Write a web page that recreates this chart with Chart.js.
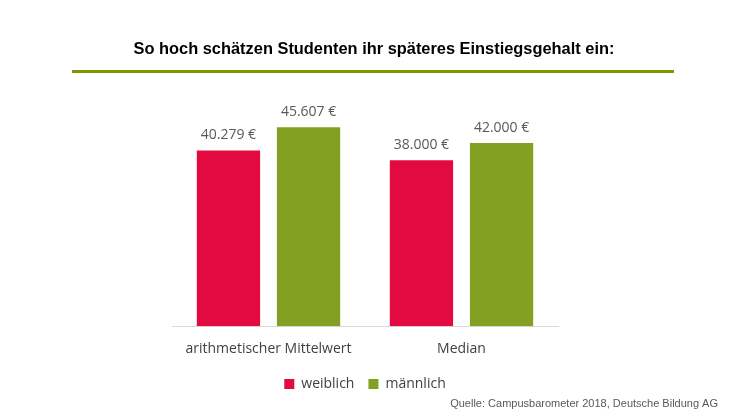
<!DOCTYPE html>
<html><head><meta charset="utf-8">
<script src="https://cdn.jsdelivr.net/npm/chart.js@4"></script>
<style>html,body{margin:0;padding:0;background:#fff;}#w{position:relative;width:746px;height:419px;}</style>
</head><body><div id="w"><canvas id="c" width="746" height="419"></canvas></div>
<script>
const categories = ["arithmetischer Mittelwert", "Median"];
const weiblich = [40279, 38000];
const maennlich = [45607, 42000];
const seriesNames = ["weiblich", "männlich"];
const titleText = "So hoch schätzen Studenten ihr späteres Einstiegsgehalt ein:";
const sourceText = "Quelle: Campusbarometer 2018, Deutsche Bildung AG";

const fmt = v => v.toLocaleString('de-DE').replace(/,/g,'.') + ' €';
const deco = {
  id: 'deco',
  afterDraw(chart) {
    const ctx = chart.ctx;
    ctx.save();
    ctx.fillStyle = '#000';
    ctx.font = 'bold 16.4px "Liberation Sans", Arial, sans-serif';
    ctx.textAlign = 'center'; ctx.textBaseline = 'middle';
    ctx.fillText(titleText, 374, 49);
    ctx.fillStyle = '#7a9a01';
    ctx.fillRect(72, 70, 602, 3);
    ctx.fillStyle = '#595959';
    ctx.font = '11px "Liberation Sans", Arial, sans-serif';
    ctx.textAlign = 'right';
    ctx.fillText(sourceText, 718, 404);
    ctx.font = '14px "Open Sans", sans-serif';
    ctx.textAlign = 'center'; ctx.textBaseline = 'bottom';
    chart.data.datasets.forEach((ds, i) => {
      chart.getDatasetMeta(i).data.forEach((bar, j) => {
        ctx.fillText(fmt(ds.data[j]), bar.x, bar.y - 8);
      });
    });
    ctx.restore();
  }
};
new Chart(document.getElementById('c'), {
  type: 'bar',
  data: {
    labels: categories,
    datasets: [
      {label: seriesNames[0], data: weiblich, backgroundColor: '#e30a42', categoryPercentage: 0.83, barPercentage: 0.79},
      {label: seriesNames[1], data: maennlich, backgroundColor: '#84a022', categoryPercentage: 0.83, barPercentage: 0.79}
    ]
  },
  options: {
    responsive: false, animation: false,
    layout: {padding: {left: 172, right: 188, top: 108, bottom: 18}},
    scales: {
      y: {display: false, min: 0, max: 50000},
      x: {grid: {display: false}, border: {color: '#d9d9d9', width: 1},
          ticks: {color: '#404040', font: {family: '"Open Sans"', size: 14}, padding: 6}}
    },
    plugins: {
      legend: {position: 'bottom', labels: {boxWidth: 10, boxHeight: 10, color: '#404040', font: {family: '"Open Sans"', size: 14}, padding: 14}},
      tooltip: {enabled: false}
    }
  },
  plugins: [deco]
});
</script></body></html>
